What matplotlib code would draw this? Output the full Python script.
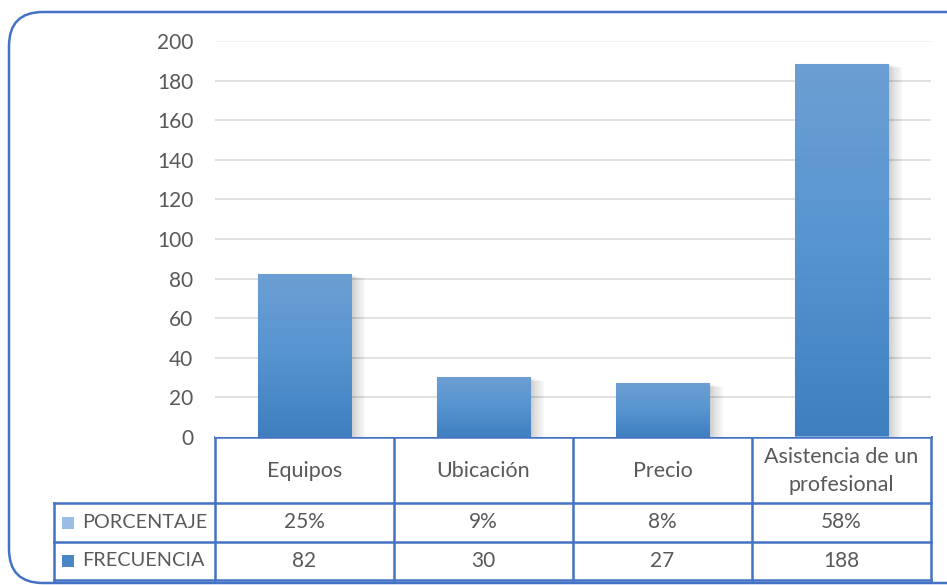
import numpy as np
import matplotlib
matplotlib.use("Agg")
import matplotlib.pyplot as plt
from matplotlib.patches import FancyBboxPatch, Rectangle
from matplotlib.colors import LinearSegmentedColormap

# ---- data ----
categories = ["Equipos", "Ubicación", "Precio", "Asistencia de un\nprofesional"]
frecuencia = [82, 30, 27, 188]
porcentaje = [0.25, 0.09, 0.08, 0.58]
porcentaje_labels = ["25%", "9%", "8%", "58%"]
yticks = [0, 20, 40, 60, 80, 100, 120, 140, 160, 180, 200]

W, H = 947, 585
plt.rcParams["font.family"] = ["Lato", "DejaVu Sans"]
txt_color = "#595959"
line_blue = "#4472c4"

fig = plt.figure(figsize=(W / 100, H / 100), dpi=100)

# overlay in pixel coordinates for frame + table
tax = fig.add_axes([0, 0, 1, 1])
tax.set_xlim(0, W)
tax.set_ylim(H, 0)
tax.axis("off")

# rounded outer frame (runs off the right edge)
frame = FancyBboxPatch((9, 12), 990, 571, boxstyle="round,pad=0,rounding_size=34",
                       fill=False, edgecolor=line_blue, linewidth=1.8)
tax.add_patch(frame)

# ---- bar chart ----
x0, x1, ytop, ybot = 215, 931, 41, 437
ax = fig.add_axes([x0 / W, 1 - ybot / H, (x1 - x0) / W, (ybot - ytop) / H])
ax.set_xlim(-0.5, len(categories) - 0.5)
ax.set_ylim(0, 200)
ax.set_yticks(yticks)
ax.set_xticks([])
for s in ax.spines.values():
    s.set_visible(False)
ax.tick_params(axis="y", length=0, pad=15.5, labelsize=15, labelcolor=txt_color)
ax.set_yticklabels([str(v) for v in yticks])
for v in yticks[1:]:
    ax.axhline(v, color="#d9d9d9" if v < 200 else "#ececec", linewidth=1.1, zorder=0)

xpos = np.arange(len(categories))
bw = 0.52
grad_cmap = LinearSegmentedColormap.from_list("g", ["#3f7fbf", "#5694d0", "#6c9fd3"])
grad = np.linspace(0, 1, 256).reshape(-1, 1)

# soft shadow to the right of the bars
for k in range(1, 9):
    for xi, (p, f) in enumerate(zip(porcentaje, frecuencia)):
        ax.add_patch(Rectangle((xi - bw / 2 + 0.004 * k, 0), bw + 0.006 * k, p + f - 0.25 * k,
                               facecolor="black", edgecolor="none", alpha=0.022, zorder=1))

bars_p = ax.bar(xpos, porcentaje, bw, color="#a5c0e4", zorder=2)
bars_f = ax.bar(xpos, frecuencia, bw, bottom=porcentaje, color="#4f8ccb",
                edgecolor="#86afdc", linewidth=0.8, zorder=2)
for b in bars_f:
    bx, by = b.get_x(), b.get_y()
    im = ax.imshow(grad, cmap=grad_cmap, aspect="auto", origin="lower",
                   extent=[bx, bx + b.get_width(), by, by + b.get_height()], zorder=2.5)
    im.set_clip_path(b)
ax.set_xlim(-0.5, len(categories) - 0.5)
ax.set_ylim(0, 200)

# ---- data table ----
col_w = (x1 - x0) / len(categories)
tl = 54
r0, r1, r2, r3 = 437, 503, 542, 580
lw = 1.8
tax.plot([x0, x1], [r0, r0], color=line_blue, lw=lw)
tax.plot([tl, x1], [r1, r1], color=line_blue, lw=lw)
tax.plot([tl, x1], [r2, r2], color=line_blue, lw=lw)
tax.plot([tl, x1], [r3, r3], color=line_blue, lw=lw)
tax.plot([tl, tl], [r1, r3], color=line_blue, lw=lw)
for i in range(len(categories) + 1):
    xc = x0 + i * col_w
    tax.plot([xc, xc], [r0, r3], color=line_blue, lw=lw)

fs = 15.5
for i, cat in enumerate(categories):
    cx = x0 + (i + 0.5) * col_w
    tax.text(cx, (r0 + r1) / 2 + 1, cat, ha="center", va="center", fontsize=fs,
             color=txt_color, linespacing=1.45)
    tax.text(cx, (r1 + r2) / 2, porcentaje_labels[i], ha="center", va="center",
             fontsize=15, color=txt_color)
    tax.text(cx, (r2 + r3) / 2, str(frecuencia[i]), ha="center", va="center",
             fontsize=15, color=txt_color)

for (ya, yb), lab, col in [((r1, r2), "PORCENTAJE", "#9dbce3"), ((r2, r3), "FRECUENCIA", "#4a86c6")]:
    yc = (ya + yb) / 2
    tax.add_patch(Rectangle((62, yc - 6), 12, 12, facecolor=col, edgecolor="none"))
    tax.text(82, yc, lab, ha="left", va="center", fontsize=14.3, color=txt_color)

fig.savefig("out.png", dpi=100)
